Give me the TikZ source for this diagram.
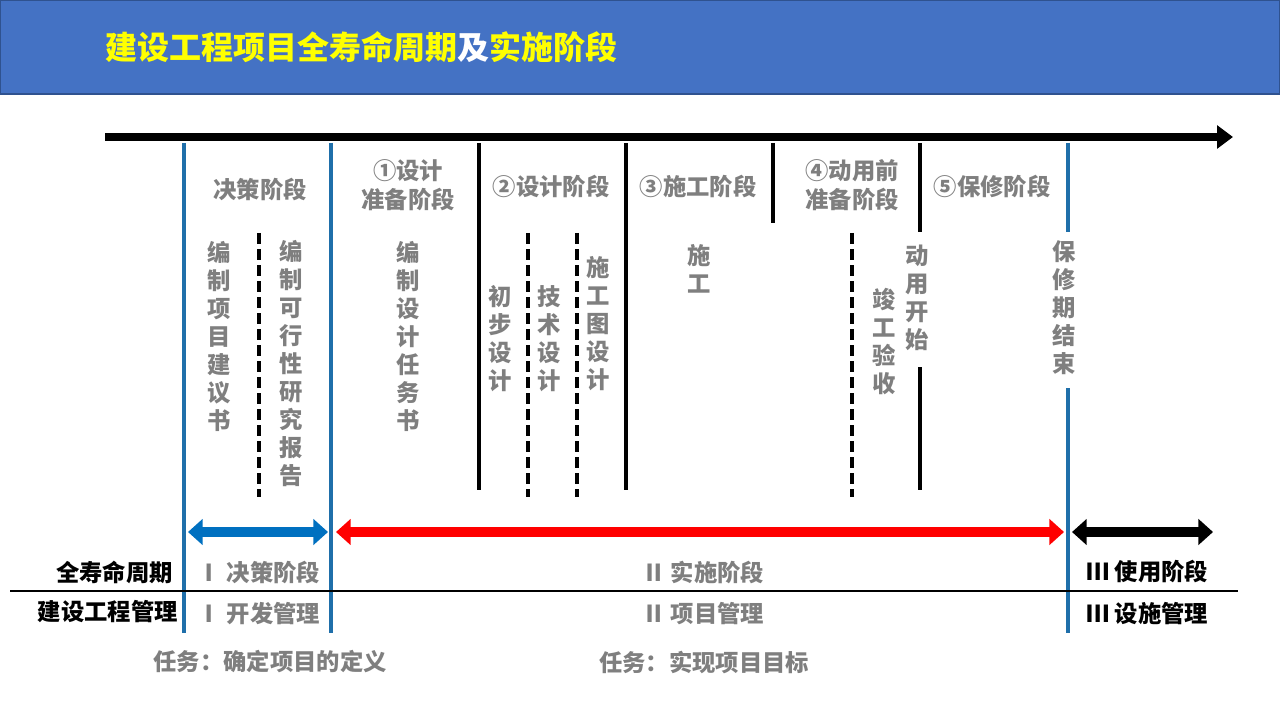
\documentclass[tikz,border=0pt]{standalone}
\usepackage{fontspec}
\setmainfont{Noto Sans CJK SC}
\usetikzlibrary{arrows.meta}
\definecolor{hdrblue}{HTML}{4472C4}
\definecolor{hdrborder}{HTML}{2F528F}
\definecolor{lineblue}{HTML}{1F6FAA}
\definecolor{txtgray}{HTML}{7F7F7F}
\definecolor{arrblue}{HTML}{0070C0}
\definecolor{arrred}{HTML}{FF0000}
\definecolor{ttlyellow}{HTML}{FFFF00}
\begin{document}
\begin{tikzpicture}[x=0.75pt,y=-0.75pt,
  phase/.style={font=\fontsize{17.5}{22}\selectfont\bfseries, text=txtgray, align=center, inner sep=0pt},
  vtext/.style={font=\fontsize{17.5}{21}\selectfont\bfseries, text=txtgray, align=center, inner sep=0pt},
  rowlabel/.style={font=\fontsize{17.5}{22}\selectfont\bfseries, inner sep=0pt},
  graylabel/.style={rowlabel, text=txtgray},
  bluev/.style={draw=lineblue, line width=3pt},
  blackv/.style={draw=black, line width=3pt},
  dashv/.style={draw=black, line width=2.7pt, dash pattern=on 8pt off 4pt},
  bigarrow/.style={line width=7.5pt, {Triangle[length=11pt,width=19pt]}-{Triangle[length=11pt,width=19pt]}}
]
\useasboundingbox (0,0) rectangle (1280,720);
\fill[white] (0,0) rectangle (1280,720);
% header
\draw[fill=hdrblue, draw=hdrborder, line width=1.2pt] (0.5,0.5) rectangle (1279.5,94);
\node[anchor=west, inner sep=0pt, font=\fontsize{24}{28}\selectfont\bfseries, text=ttlyellow] (title) at (105,47)
  {建设工程项目全寿命周期\textcolor{white}{及}实施阶段};

% timeline
\coordinate (tl0) at (105,137);
\coordinate (tl1) at (1233,137);
\draw[line width=6pt, -{Triangle[length=12pt,width=17pt]}] (tl0) -- (tl1);

% vertical lines
\coordinate (v1t) at (184,143); \coordinate (v1b) at (184,633);
\coordinate (v2t) at (331,143); \coordinate (v2b) at (331,633);
\coordinate (v3t) at (479,143); \coordinate (v3b) at (479,490);
\coordinate (v4t) at (626,143); \coordinate (v4b) at (626,490);
\coordinate (v5t) at (773,143); \coordinate (v5b) at (773,223);
\coordinate (v6t) at (920,143); \coordinate (v6m) at (920,232);
\coordinate (v6n) at (920,367); \coordinate (v6b) at (920,490);
\coordinate (v7t) at (1068,143); \coordinate (v7m) at (1068,232);
\coordinate (v7n) at (1068,388); \coordinate (v7b) at (1068,633);
\draw[bluev] (v1t) -- (v1b);
\draw[bluev] (v2t) -- (v2b);
\draw[blackv] (v3t) -- (v3b);
\draw[blackv] (v4t) -- (v4b);
\draw[blackv] (v5t) -- (v5b);
\draw[blackv] (v6t) -- (v6m);
\draw[blackv] (v6n) -- (v6b);
\draw[bluev] (v7t) -- (v7m);
\draw[bluev] (v7n) -- (v7b);

% dashed lines
\coordinate (d1t) at (259,233); \coordinate (d1b) at (259,497);
\coordinate (d2t) at (528,233); \coordinate (d2b) at (528,497);
\coordinate (d3t) at (577,233); \coordinate (d3b) at (577,497);
\coordinate (d4t) at (852,233); \coordinate (d4b) at (852,497);
\draw[dashv] (d1t) -- (d1b);
\draw[dashv] (d2t) -- (d2b);
\draw[dashv] (d3t) -- (d3b);
\draw[dashv] (d4t) -- (d4b);

% phase labels
\node[phase] (p0) at (260,190) {决策阶段};
\node[phase] (p1) at (408,185) {①设计\\准备阶段};
\node[phase] (p2) at (551,187) {②设计阶段};
\node[phase] (p3) at (698,187) {③施工阶段};
\node[phase] (p4) at (852,185) {④动用前\\准备阶段};
\node[phase] (p5) at (992,187) {⑤保修阶段};

% vertical texts
\node[vtext] (t1) at (219,336) {编\\制\\项\\目\\建\\议\\书};
\node[vtext] (t2) at (291,364) {编\\制\\可\\行\\性\\研\\究\\报\\告};
\node[vtext] (t3) at (408,336) {编\\制\\设\\计\\任\\务\\书};
\node[vtext] (t4) at (500,339) {初\\步\\设\\计};
\node[vtext] (t5) at (549,339) {技\\术\\设\\计};
\node[vtext] (t6) at (598,324) {施\\工\\图\\设\\计};
\node[vtext] (t7) at (699,269) {施\\工};
\node[vtext] (t8) at (884,342) {竣\\工\\验\\收};
\node[vtext] (t9) at (917,298) {动\\用\\开\\始};
\node[vtext] (t10) at (1064,308) {保\\修\\期\\结\\束};

% double arrows
\coordinate (a1l) at (188,532); \coordinate (a1r) at (328,532);
\coordinate (a2l) at (336,532); \coordinate (a2r) at (1064,532);
\coordinate (a3l) at (1072,532); \coordinate (a3r) at (1213,532);
\draw[bigarrow, arrblue] (a1l) -- (a1r);
\draw[bigarrow, arrred] (a2l) -- (a2r);
\draw[bigarrow, black] (a3l) -- (a3r);

% separator
\coordinate (s0) at (10,591); \coordinate (s1) at (1238,591);
\draw[line width=1.8pt] (s0) -- (s1);

% row labels
\node[rowlabel, anchor=east] (r1) at (173,572) {全寿命周期};
\node[rowlabel, anchor=east] (r2) at (178,612) {建设工程管理};
\node[graylabel] (c11) at (259,572) {Ⅰ\ 决策阶段};
\node[graylabel] (c21) at (259,614) {Ⅰ\ 开发管理};
\node[graylabel] (c12) at (703,572) {Ⅱ\ 实施阶段};
\node[graylabel] (c22) at (703,614) {Ⅱ\ 项目管理};
\node[rowlabel] (c13) at (1147,572) {Ⅲ\ 使用阶段};
\node[rowlabel] (c23) at (1147,614) {Ⅲ\ 设施管理};

% tasks
\node[graylabel] (k1) at (270,662) {任务：确定项目的定义};
\node[graylabel] (k2) at (704,662) {任务：实现项目目标};
\end{tikzpicture}
\end{document}
